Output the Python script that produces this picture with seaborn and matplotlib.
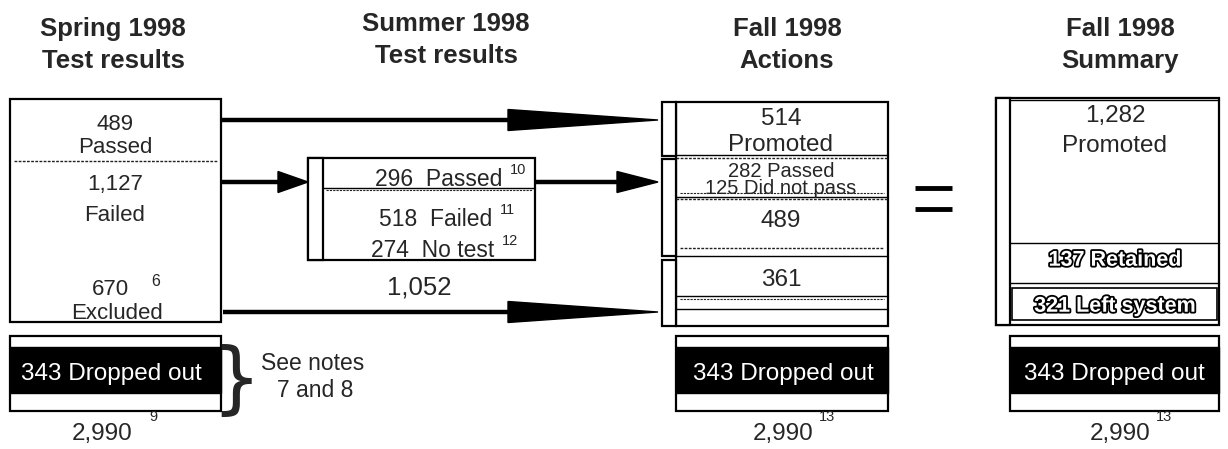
import matplotlib
matplotlib.use('Agg')
import matplotlib.pyplot as plt
import matplotlib.patheffects as pe
from matplotlib.patches import Rectangle, Polygon
import seaborn as sns

sns.set_style('white')
plt.rcParams['font.family'] = ['Liberation Sans', 'DejaVu Sans']

# Datos del diagrama
column_titles = [('Spring 1998', 'Test results'), ('Summer 1998', 'Test results'),
                 ('Fall 1998', 'Actions'), ('Fall 1998', 'Summary')]
spring_counts = [489, 1127, 670]
spring_labels = ['Passed', 'Failed', 'Excluded']
summer_counts = [296, 518, 274]
summer_labels = ['Passed', 'Failed', 'No test']
summer_notes = ['10', '11', '12']
summer_total = 1052
action_counts = [514, 282, 125, 489, 361]
action_labels = ['Promoted', 'Passed', 'Did not pass']
summary_counts = [1282, 137, 321]
summary_labels = ['Promoted', 'Retained', 'Left system']
dropped_out = 343
total_students = 2990
total_notes = ['9', '13', '13']
excluded_note = '6'
brace_note = ['See notes', '7 and 8']

fmt = lambda n: f'{n:,}'

# Lienzo en pixeles
fig = plt.figure(figsize=(12.28, 4.49), dpi=100)
ax = fig.add_axes([0, 0, 1, 1])
ax.set_xlim(0, 1228)
ax.set_ylim(449, 0)
ax.axis('off')

BODY = 16
BIG = 17.5
SMALL = 14.5
SUP = 10.5
LW = 1.6


def box(x0, y0, x1, y1, fc='none', lw=LW):
    ax.add_patch(Rectangle((x0, y0), x1 - x0, y1 - y0, facecolor=fc,
                           edgecolor='black', lw=lw))


def hline(x0, x1, y, dotted=False, lw=1.0):
    ls = (0, (2, 1)) if dotted else '-'
    ax.plot([x0, x1], [y, y], color='#222222' if dotted else 'black', lw=lw, ls=ls)


def arrow(x0, xh, x1, y, h):
    ax.plot([x0, xh + 2], [y, y], color='black', lw=3.2, solid_capstyle='butt')
    ax.add_patch(Polygon([(xh, y - h / 2), (xh, y + h / 2), (x1, y)],
                         closed=True, color='black'))


def txt(x, y, s, size=BODY, **kw):
    # y = centro de las mayusculas
    base = y + 0.36 * size * 100 / 72
    ax.text(x, base, s, fontsize=size, ha=kw.pop('ha', 'center'), va='baseline', **kw)


def dropped_box(x0, x1, cx, ha='center'):
    box(x0, 336, x1, 411)
    ax.add_patch(Rectangle((x0, 347), x1 - x0, 46, color='black'))
    txt(cx, 371, f'{dropped_out} Dropped out', size=BIG, color='white', ha=ha)


def total_label(cx, note, sx):
    txt(cx, 431, fmt(total_students), size=BIG)
    txt(sx, 416, note, size=SUP, ha='left')


# Titulos
title_pos = [(113, 27), (446, 22), (787, 27), (1120, 27)]
for (l1, l2), (x, y) in zip(column_titles, title_pos):
    txt(x, y, l1, size=18.5, fontweight='bold')
    txt(x, y + 32, l2, size=18.5, fontweight='bold')

# Spring 1998
box(10, 99, 221, 322)
hline(14, 217, 161, dotted=True)
txt(115, 122, fmt(spring_counts[0]))
txt(115, 145, spring_labels[0])
txt(115, 182, fmt(spring_counts[1]))
txt(115, 213, spring_labels[1])
txt(110, 287, fmt(spring_counts[2]))
txt(151, 280, excluded_note, size=SUP + 1, ha='left')
txt(117, 311, spring_labels[2])
dropped_box(10, 221, 21, ha='left')
txt(236, 376, '}', size=56, family='DejaVu Sans')
txt(313, 362, brace_note[0], size=16.5)
txt(315, 389, brace_note[1], size=16.5)
total_label(102, total_notes[0], 149)

# Flechas
arrow(221, 508, 658, 120, 21)
arrow(221, 278, 308, 182, 21)
arrow(223, 508, 658, 312, 21)
arrow(535, 617, 658, 182, 21)

# Summer 1998
box(308, 158, 535, 260)
box(308, 158, 323, 260, fc='white')
hline(323, 535, 188)
hline(326, 532, 190, dotted=True, lw=0.8)
for (c, lab, n), y, sx in zip(zip(summer_counts, summer_labels, summer_notes),
                              [178, 218, 249], [510, 500, 502]):
    txt(sx - 8, y, f'{c}  {lab}', size=16.5, ha='right')
    txt(sx, y - 9, n, size=SUP, ha='left')
txt(419, 285, fmt(summer_total), size=18.5)

# Fall 1998 actions
box(676, 102, 888, 326)
for y0, y1 in [(102, 156), (159, 256), (260, 326)]:
    box(662, y0, 676, y1, fc='white')
hline(676, 888, 155)
hline(676, 888, 158, dotted=True)
txt(781, 116, fmt(action_counts[0]), size=BIG)
txt(781, 142, action_labels[0], size=BIG)
txt(781, 170, f'{action_counts[1]} {action_labels[1]}', size=SMALL)
txt(781, 187, f'{action_counts[2]} {action_labels[2]}', size=SMALL)
hline(680, 884, 193, dotted=True, lw=0.8)
hline(676, 888, 197)
hline(676, 888, 199, dotted=True)
txt(781, 218, fmt(action_counts[3]), size=BIG)
hline(680, 884, 248, dotted=True)
hline(676, 888, 256)
txt(781, 277, fmt(action_counts[4]), size=BIG)
hline(676, 888, 296)
hline(680, 884, 299, dotted=True, lw=0.8)
hline(676, 888, 309)
dropped_box(676, 888, 783)
total_label(783, total_notes[1], 819)

# Signo igual
for y in [188, 209]:
    ax.plot([915, 952], [y, y], color='black', lw=3.5, solid_capstyle='butt')

# Fall 1998 summary
box(996, 98, 1219, 325)
box(996, 98, 1010, 325, fc='white')
hline(1010, 1219, 100)
txt(1115, 113, fmt(summary_counts[0]), size=BIG)
txt(1115, 143, summary_labels[0], size=BIG)
hline(1010, 1219, 243)
hline(1010, 1219, 283)
box(1012, 288, 1217, 320, lw=1.2)
outline = [pe.withStroke(linewidth=2.6, foreground='black')]
txt(1115, 258, f'{summary_counts[1]} {summary_labels[1]}', size=15.5, color='white',
    fontweight='bold', path_effects=outline)
txt(1115, 304, f'{summary_counts[2]} {summary_labels[2]}', size=15.5, color='white',
    fontweight='bold', path_effects=outline)
dropped_box(1010, 1219, 1114)
total_label(1120, total_notes[2], 1156)

fig.savefig('out.png', dpi=100, facecolor='white')
